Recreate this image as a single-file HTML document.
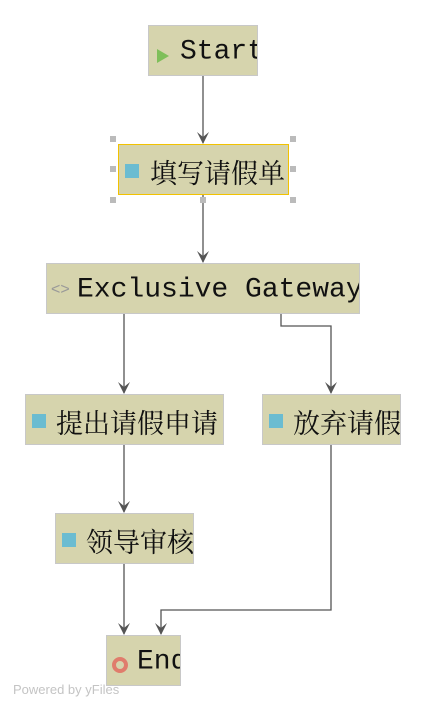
<!DOCTYPE html>
<html><head><meta charset="utf-8"><style>
body{margin:0;width:426px;height:711px;background:#fff;position:relative;overflow:hidden}
.n{position:absolute;box-sizing:border-box;background:#d6d4ad;border:1px solid #c8c8c8;overflow:hidden;white-space:nowrap}
.t{position:absolute;top:50%;transform:translateY(-45%);color:#111;font-size:27px;font-family:"Noto Serif CJK SC","Liberation Serif",serif;line-height:1}
.m{font-family:"Liberation Mono",monospace;font-size:28px}
.sq{position:absolute;top:50%;margin-top:-6px;width:14px;height:14px;background:#6bbcd1}
.h{position:absolute;width:6px;height:6px;background:#bbb}
svg{position:absolute;left:0;top:0}
</style></head><body>
<svg width="426" height="711">
<defs><marker id="a" markerWidth="12" markerHeight="12" refX="11" refY="6" orient="auto" markerUnits="userSpaceOnUse"><path d="M0,0 L12,6 L0,12 L5,6 Z" fill="#555"/></marker></defs>
<g stroke="#555" stroke-width="1.3" fill="none">
<path d="M203,75 V143" marker-end="url(#a)"/>
<path d="M203,194 V262" marker-end="url(#a)"/>
<path d="M124,313 V393" marker-end="url(#a)"/>
<path d="M281,313 V326 H331 V393" marker-end="url(#a)"/>
<path d="M124,444 V512" marker-end="url(#a)"/>
<path d="M124,563 V634" marker-end="url(#a)"/>
<path d="M331,444 V610 H161 V634" marker-end="url(#a)"/>
</g></svg>
<div class="n" style="left:148px;top:25px;width:110px;height:51px"><svg width="14" height="14" style="left:8px;top:23px"><path d="M0,0 L12,7 L0,14 Z" fill="#7fbf5a"/></svg><span class="t m" style="left:31px">Start</span></div>
<div class="n" style="left:118px;top:144px;width:171px;height:51px;border:1.5px solid #f2c200"><div class="sq" style="left:6px"></div><span class="t" style="left:31px">填写请假单</span></div>
<div class="h" style="left:110px;top:136px"></div><div class="h" style="left:290px;top:136px"></div>
<div class="h" style="left:110px;top:166px"></div><div class="h" style="left:290px;top:166px"></div>
<div class="h" style="left:110px;top:197px"></div><div class="h" style="left:200px;top:197px"></div><div class="h" style="left:290px;top:197px"></div>
<div class="n" style="left:46px;top:263px;width:314px;height:51px"><span class="t" style="left:4px;color:#999;font-family:'Liberation Sans',sans-serif;font-size:16px">&lt;&gt;</span><span class="t m" style="left:30px">Exclusive Gateway</span></div>
<div class="n" style="left:25px;top:394px;width:199px;height:51px"><div class="sq" style="left:6px"></div><span class="t" style="left:30px">提出请假申请</span></div>
<div class="n" style="left:262px;top:394px;width:139px;height:51px"><div class="sq" style="left:6px"></div><span class="t" style="left:30px">放弃请假</span></div>
<div class="n" style="left:55px;top:513px;width:139px;height:51px"><div class="sq" style="left:6px"></div><span class="t" style="left:30px">领导审核</span></div>
<div class="n" style="left:106px;top:635px;width:75px;height:51px"><div style="position:absolute;left:5px;top:21px;width:8px;height:8px;border:4px solid #e07c6c;border-radius:50%"></div><span class="t m" style="left:30px">End</span></div>
<div style="position:absolute;left:13px;top:682px;font:13px 'Liberation Sans',sans-serif;color:#c4c4c4">Powered by yFiles</div>
</body></html>
